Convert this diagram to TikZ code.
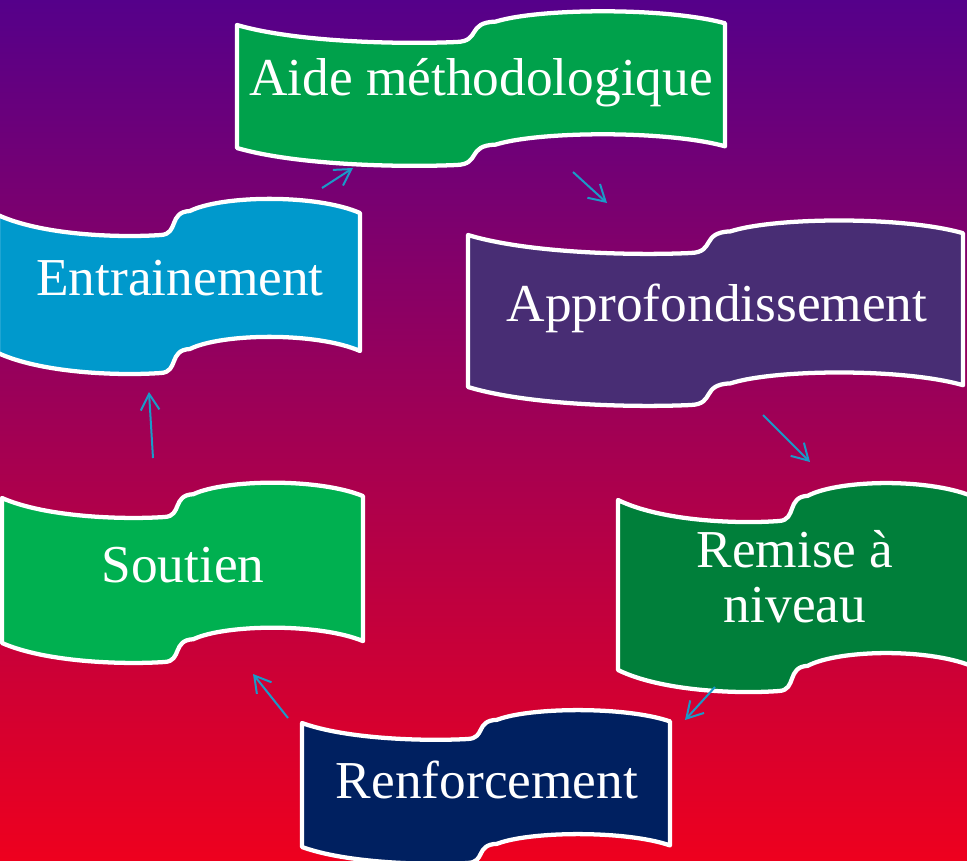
\documentclass[tikz,border=0pt]{standalone}
\usepackage{fontspec}
\setmainfont{Liberation Serif}
\usetikzlibrary{arrows.meta}
\definecolor{bgtop}{HTML}{55008A}
\definecolor{bgmid}{HTML}{A5006F}
\definecolor{bgbot}{HTML}{EE001E}
\definecolor{cAide}{HTML}{00A14B}
\definecolor{cEntr}{HTML}{0099CC}
\definecolor{cAppr}{HTML}{482D74}
\definecolor{cRemi}{HTML}{007F3A}
\definecolor{cRenf}{HTML}{002060}
\definecolor{cSout}{HTML}{00B050}
\definecolor{arrowc}{HTML}{1A9AC8}
\tikzset{
  wavestyle/.style={draw=white, line width=3.2pt, line join=round},
  lbl/.style={text=white, align=center, font=\fontsize{40}{41}\selectfont, inner sep=0pt},
  arr/.style={draw=arrowc, line width=1.5pt, -{Straight Barb[length=12pt,width=14pt]}},
}
% #1 x0, #2 y0, #3 W, #4 H, #5 dip, #6 colour
\newcommand{\wavebox}[6]{%
  \path[wavestyle, fill=#6] (#1,#2)
   .. controls ({#1+0.12*#3},{#2+1.0*#5}) and ({#1+0.33*#3},{#2+1.15*#5}) .. ({#1+0.45*#3},{#2+1.0*#5})
   .. controls ({#1+0.50*#3},{#2+0.95*#5}) and ({#1+0.47*#3},{#2-0.15*#5}) .. ({#1+0.53*#3},{#2-0.2*#5})
   .. controls ({#1+0.62*#3},{#2-1.0*#5}) and ({#1+0.88*#3},{#2-1.05*#5}) .. ({#1+#3},{#2-0.1*#5})
   -- ({#1+#3},{#2+#4-0.1*#5})
   .. controls ({#1+0.88*#3},{#2+#4-1.05*#5}) and ({#1+0.62*#3},{#2+#4-1.0*#5}) .. ({#1+0.53*#3},{#2+#4-0.2*#5})
   .. controls ({#1+0.47*#3},{#2+#4-0.15*#5}) and ({#1+0.50*#3},{#2+#4+0.95*#5}) .. ({#1+0.45*#3},{#2+#4+1.0*#5})
   .. controls ({#1+0.33*#3},{#2+#4+1.15*#5}) and ({#1+0.12*#3},{#2+#4+1.0*#5}) .. (#1,{#2+#4})
   -- cycle;}
\begin{document}
\begin{tikzpicture}[x=0.75pt,y=-0.75pt]
\shade[top color=bgtop, middle color=bgmid, bottom color=bgbot] (0,0) rectangle (967,860);
\useasboundingbox (0,0) rectangle (967,860);
% shapes
\wavebox{237}{25}{488}{123}{17}{cAide}
\wavebox{-2}{215}{362}{138}{20}{cEntr}
\wavebox{468}{235}{495}{152}{18}{cAppr}
\wavebox{618}{500}{358}{170}{21}{cRemi}
\wavebox{302}{723}{368}{124}{16}{cRenf}
\wavebox{2}{498}{361}{145}{19}{cSout}
% labels
\node[lbl] (aide) at (481,83) {Aide méthodologique};
\node[lbl] (entr) at (180,278) {Entrainement};
\node[lbl] (appr) at (717,308) {Approfondissement};
\node[lbl] (remi) at (795,577) {Remise à\\niveau};
\node[lbl] (renf) at (487,780) {Renforcement};
\node[lbl] (sout) at (183,565) {Soutien};
% arrow ends
\coordinate (a1s) at (322,188); \coordinate (a1e) at (353,168);
\coordinate (a2s) at (573,172); \coordinate (a2e) at (607,203);
\coordinate (a3s) at (763,415); \coordinate (a3e) at (810,462);
\coordinate (a4s) at (715,687); \coordinate (a4e) at (685,720);
\coordinate (a5s) at (288,718); \coordinate (a5e) at (253,674);
\coordinate (a6s) at (153,458); \coordinate (a6e) at (149,392);
\draw[arr] (a1s) -- (a1e);
\draw[arr] (a2s) -- (a2e);
\draw[arr] (a3s) -- (a3e);
\draw[arr] (a4s) -- (a4e);
\draw[arr] (a5s) -- (a5e);
\draw[arr] (a6s) -- (a6e);
\end{tikzpicture}
\end{document}
